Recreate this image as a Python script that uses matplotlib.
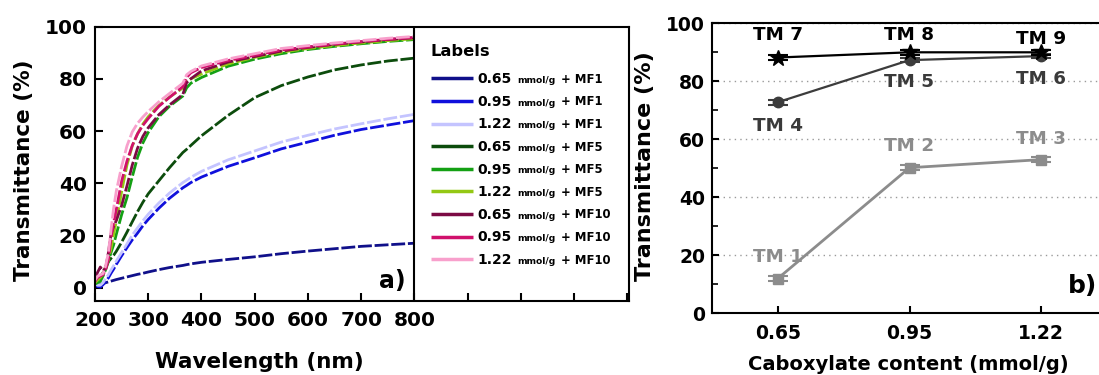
import matplotlib
matplotlib.use("Agg")
import matplotlib.pyplot as plt
from matplotlib.ticker import MultipleLocator, FuncFormatter

plt.rcParams['font.family'] = ['DejaVu Sans']
plt.rcParams['font.weight'] = 'bold'

# ---------------- data: panel a ----------------
wavelength = [200, 205, 210, 215, 220, 225, 230, 235, 240, 250, 260, 270, 280, 290,
              300, 320, 340, 365, 372, 380, 400, 450, 500, 550, 600, 650, 700, 750, 800]

t_065_mf1 = [1.0, 0.8, 1.2, 1.6, 2.0, 2.3, 2.6, 2.9, 3.2, 3.7, 4.2, 4.7, 5.2, 5.6,
             6.1, 7.0, 7.8, 8.6, 8.9, 9.2, 9.8, 10.9, 11.9, 13.1, 14.1, 15.0, 15.9, 16.5, 17.1]
t_095_mf1 = [1.0, 0.5, 0.3, 1.2, 2.5, 3.8, 5.6, 7.2, 9.0, 12.3, 15.4, 18.4, 21.0, 23.8,
             26.2, 30.5, 34.3, 38.3, 39.2, 40.3, 42.4, 46.5, 49.8, 53.2, 55.8, 58.4, 60.6, 62.3, 64.0]
t_122_mf1 = [1.5, 1.0, 1.0, 2.0, 3.5, 5.0, 6.8, 8.5, 10.3, 13.5, 16.8, 20.2, 23.0, 25.7,
             28.2, 32.5, 36.3, 40.3, 41.2, 42.3, 44.6, 49.0, 52.4, 55.8, 58.4, 60.8, 62.8, 64.7, 66.4]
t_065_mf5 = [2.0, 3.0, 4.0, 5.8, 8.0, 10.0, 11.3, 12.5, 14.0, 17.5, 21.3, 25.3, 29.2, 32.8,
             36.0, 41.0, 46.0, 51.8, 53.0, 54.5, 58.2, 66.0, 72.8, 77.4, 80.7, 83.4, 85.3, 86.8, 87.9]
t_095_mf5 = [1.5, 2.0, 2.5, 4.5, 7.0, 10.0, 13.5, 16.5, 20.5, 28.0, 34.5, 42.5, 50.0, 55.5,
             59.5, 65.5, 69.5, 73.4, 76.5, 78.3, 80.5, 84.8, 87.5, 89.6, 91.2, 92.4, 93.4, 94.3, 95.0]
t_122_mf5 = [2.0, 3.0, 4.0, 5.5, 8.0, 10.7, 15.0, 20.5, 25.5, 36.8, 47.0, 54.3, 59.0, 62.7,
             65.5, 69.8, 73.0, 76.5, 79.0, 80.0, 81.8, 85.7, 88.2, 90.2, 91.6, 92.7, 93.7, 94.6, 95.3]
t_065_mf10 = [4.0, 6.0, 8.0, 6.5, 7.5, 13.3, 20.5, 23.5, 25.8, 31.5, 39.0, 47.0, 53.5, 58.0,
              61.3, 66.3, 70.0, 74.0, 78.5, 80.0, 83.0, 86.4, 88.5, 90.6, 92.0, 93.2, 94.1, 95.0, 95.7]
t_095_mf10 = [2.5, 4.0, 4.5, 5.0, 7.0, 10.7, 19.0, 25.0, 30.0, 40.8, 48.5, 54.5, 59.0, 62.2,
              64.8, 69.5, 72.9, 77.0, 80.5, 82.3, 84.3, 87.0, 89.0, 91.0, 92.2, 93.3, 94.2, 95.1, 95.8]
t_122_mf10 = [3.0, 4.5, 5.0, 5.5, 8.5, 13.3, 22.0, 30.5, 37.0, 46.5, 54.3, 59.7, 63.0, 65.4,
              67.5, 71.2, 74.4, 78.3, 81.5, 82.8, 84.9, 87.6, 89.6, 91.6, 92.7, 93.7, 94.6, 95.5, 96.2]

curves = [t_065_mf1, t_095_mf1, t_122_mf1, t_065_mf5, t_095_mf5, t_122_mf5,
          t_065_mf10, t_095_mf10, t_122_mf10]
curve_content = ["0.65", "0.95", "1.22", "0.65", "0.95", "1.22", "0.65", "0.95", "1.22"]
curve_mf = ["MF1", "MF1", "MF1", "MF5", "MF5", "MF5", "MF10", "MF10", "MF10"]
curve_colors = ["#10108a", "#1010dc", "#c4c4ff", "#0c4c0c", "#14a014", "#94c814",
                "#7c0a44", "#d0106c", "#f8a0cc"]

# ---------------- data: panel b ----------------
contents = ["0.65", "0.95", "1.22"]
tm_low = [12.0, 50.2, 53.0]      # TM 1-3
tm_mid = [72.8, 87.3, 88.7]      # TM 4-6
tm_high = [88.2, 90.0, 90.0]     # TM 7-9
tm_err = [0.8, 0.8, 0.8]
names_low = ["TM 1", "TM 2", "TM 3"]
names_mid = ["TM 4", "TM 5", "TM 6"]
names_high = ["TM 7", "TM 8", "TM 9"]

# ---------------- figure ----------------
W, H = 1099, 375
fig = plt.figure(figsize=(W / 100, H / 100), dpi=100)

def fx(px):
    return px / W

def fy(py):
    return 1 - py / H

# panel a axes (pixel box 95..629 x 26.5..301)
axa = fig.add_axes([fx(95), fy(301), (629 - 95) / W, (301 - 26.5) / H])
for i, vals in enumerate(curves):
    axa.plot(wavelength, vals, color=curve_colors[i], lw=2.0, ls=(0, (5, 1)),
             label=curve_content[i], solid_capstyle='butt')
axa.set_xlim(200, 1203)
axa.set_ylim(-5, 100)
axa.xaxis.set_major_locator(MultipleLocator(100))
axa.yaxis.set_major_locator(MultipleLocator(20))
axa.xaxis.set_major_formatter(FuncFormatter(lambda v, p: f"{v:.0f}" if v <= 800 else ""))
axa.yaxis.set_major_formatter(FuncFormatter(lambda v, p: f"{v:.0f}" if v >= 0 else ""))
axa.tick_params(direction='in', length=6, width=1.5, labelsize=14.5)
axa.tick_params(axis='x', pad=7)
axa.tick_params(axis='y', pad=6)
for s in axa.spines.values():
    s.set_linewidth(1.5)
axa.axvline(800, color='black', lw=1.5, zorder=4)

leg = axa.legend(loc='upper left',
                 bbox_to_anchor=((431 - 95) / 534, (301 - 44) / 274.5),
                 frameon=False, borderpad=0, borderaxespad=0,
                 title='Labels',
                 title_fontproperties={'size': 11.7, 'weight': 'bold'},
                 prop={'size': 10, 'weight': 'bold'},
                 handlelength=3.0, handletextpad=0.35, labelspacing=0.62,
                 alignment='left')
leg._legend_box.sep = 9.5
for h in leg.legend_handles:
    h.set_linestyle('-')
    h.set_linewidth(2.5)
for txt, mf in zip(leg.get_texts(), curve_mf):
    a1 = axa.annotate("mmol/g", xy=(1, 0), xycoords=txt, xytext=(4, 0.236 * 10),
                      textcoords='offset points', fontsize=6.6, fontweight='bold',
                      ha='left', va='baseline', zorder=10)
    axa.annotate("+ " + mf, xy=(1, 0), xycoords=a1, xytext=(4, 0.236 * 6.6),
                 textcoords='offset points', fontsize=8.4, fontweight='bold',
                 ha='left', va='baseline', zorder=10)

fig.text(fx(24), fy(170), "Transmittance (%)", rotation=90, ha='center', va='center',
         fontsize=15.5, fontweight='bold')
fig.text(fx(259.5), fy(362), "Wavelength (nm)", ha='center', va='center',
         fontsize=15.5, fontweight='bold')
fig.text(fx(392), fy(281), "a)", ha='center', va='center', fontsize=17, fontweight='bold')

# panel b axes (pixel box 712..1107 x 23.3..313.3)
axb = fig.add_axes([fx(712), fy(313.3), (1107 - 712) / W, (313.3 - 23.3) / H])
xpos = list(range(len(contents)))
axb.errorbar(xpos, tm_low, yerr=tm_err, fmt='-s', color='#8c8c8c', ms=6.5, lw=2.0,
             capsize=7, capthick=1.5, elinewidth=1.5, zorder=3)
axb.errorbar(xpos, tm_mid, yerr=tm_err, fmt='-o', color='#3c3c3c', ms=7.5, lw=1.6,
             capsize=7, capthick=1.5, elinewidth=1.5, zorder=4)
axb.errorbar(xpos, tm_high, yerr=tm_err, fmt='-*', color='#000000', ms=12, lw=1.6,
             capsize=7, capthick=1.5, elinewidth=1.5, zorder=5)

dy_low = [7.4, 7.5, 7.2]
dy_mid = [-8.3, -7.5, -7.8]
dy_high = [7.8, 6.0, 4.7]
for names, vals, dys, col in [(names_low, tm_low, dy_low, '#8c8c8c'),
                              (names_mid, tm_mid, dy_mid, '#3a3a3a'),
                              (names_high, tm_high, dy_high, '#000000')]:
    for xi, v, d, n in zip(xpos, vals, dys, names):
        axb.text(xi, v + d, n, ha='center', va='center', fontsize=13.2,
                 fontweight='bold', color=col, zorder=6)

axb.set_xlim(-0.5, 2.5)
axb.set_ylim(0, 100)
axb.set_xticks(xpos, contents)
axb.yaxis.set_major_locator(MultipleLocator(20))
axb.yaxis.set_minor_locator(MultipleLocator(10))
axb.tick_params(direction='in', length=5, width=1.5, labelsize=13.5)
axb.tick_params(which='minor', direction='in', length=4, width=1.2)
axb.tick_params(axis='x', pad=8)
axb.tick_params(axis='y', pad=5)
axb.set_axisbelow(True)
axb.yaxis.grid(True, which='major', linestyle=(0, (1, 3)), color='#9a9a9a', lw=1.0)
for s in axb.spines.values():
    s.set_linewidth(1.5)

fig.text(fx(645), fy(166), "Transmittance (%)", rotation=90, ha='center', va='center',
         fontsize=16, fontweight='bold')
fig.text(fx(908), fy(364), "Caboxylate content (mmol/g)", ha='center', va='center',
         fontsize=14, fontweight='bold')
fig.text(fx(1083), fy(286), "b)", ha='center', va='center', fontsize=18, fontweight='bold')

fig.savefig("out.png", dpi=100)
